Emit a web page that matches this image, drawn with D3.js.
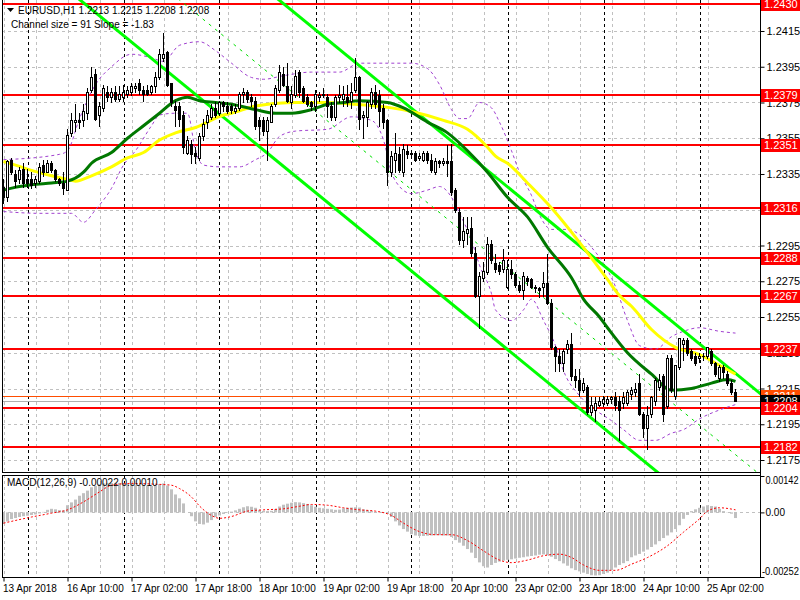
<!DOCTYPE html>
<html><head><meta charset="utf-8">
<script src="https://cdn.jsdelivr.net/npm/d3@7"></script>
<style>
html,body{margin:0;padding:0;background:#fff;}
svg{display:block;}
text{font-family:"Liberation Sans",Arial,sans-serif;}
</style></head><body>
<svg id="c" width="800" height="600"></svg>
<script>
// ---------------- DATA ----------------
const symbolTitle = "EURUSD,H1";
const headerQuote = ["1.2213","1.2215","1.2208","1.2208"];
const channelText = "Channel size = 91 Slope = -1.83";
const macdText = "MACD(12,26,9) -0.00022 0.00010";

const opens = [1.2328,1.2322,1.2343,1.2335,1.2332,1.2338,1.2332,1.2332,1.2330,1.2331,
1.2340,1.2336,1.2341,1.2337,1.2332,1.2330,1.2326,1.2358,1.2364,1.2365,
1.2365,1.2369,1.2382,1.2391,1.2368,1.2372,1.2381,1.2378,1.2381,1.2377,
1.2378,1.2380,1.2381,1.2383,1.2386,1.2382,1.2382,1.2381,1.2384,1.2389,
1.2400,1.2403,1.2386,1.2373,1.2373,1.2368,1.2347,1.2352,1.2347,1.2344,
1.2356,1.2364,1.2367,1.2372,1.2369,1.2375,1.2373,1.2373,1.2370,1.2372,
1.2380,1.2381,1.2378,1.2376,1.2365,1.2365,1.2359,1.2364,1.2374,1.2382,
1.2391,1.2384,1.2375,1.2379,1.2392,1.2383,1.2378,1.2375,1.2373,1.2378,
1.2380,1.2378,1.2373,1.2367,1.2378,1.2377,1.2378,1.2376,1.2382,1.2389,
1.2367,1.2367,1.2374,1.2381,1.2379,1.2372,1.2365,1.2336,1.2343,1.2346,
1.2336,1.2348,1.2347,1.2347,1.2344,1.2343,1.2347,1.2343,1.2336,1.2342,
1.2341,1.2342,1.2342,1.2326,1.2314,1.2298,1.2302,1.2305,1.2291,1.2267,
1.2277,1.2280,1.2296,1.2285,1.2284,1.2282,1.2272,1.2282,1.2279,1.2273,
1.2270,1.2277,1.2276,1.2271,1.2271,1.2272,1.2274,1.2263,1.2238,1.2233,
1.2229,1.2237,1.2240,1.2222,1.2220,1.2214,1.2216,1.2202,1.2203,1.2206,
1.2207,1.2207,1.2209,1.2210,1.2208,1.2207,1.2207,1.2212,1.2213,1.2218,
1.2201,1.2193,1.2201,1.2208,1.2216,1.2222,1.2205,1.2232,1.2211,1.2227,
1.2240,1.2242,1.2236,1.2233,1.2232,1.2233,1.2233,1.2236,1.2229,1.2221,
1.2227,1.2223,1.2218,1.2213];
const highs = [1.2332,1.2343,1.2344,1.2337,1.2339,1.2341,1.2338,1.2336,1.2334,1.2341,
1.2343,1.2343,1.2342,1.2338,1.2333,1.2336,1.2360,1.2369,1.2374,1.2369,
1.2374,1.2383,1.2395,1.2394,1.2375,1.2385,1.2384,1.2383,1.2384,1.2384,
1.2385,1.2384,1.2386,1.2386,1.2388,1.2384,1.2385,1.2385,1.2392,1.2405,
1.2414,1.2404,1.2386,1.2376,1.2375,1.2370,1.2356,1.2354,1.2350,1.2358,
1.2366,1.2371,1.2374,1.2375,1.2376,1.2376,1.2375,1.2374,1.2374,1.2381,
1.2383,1.2382,1.2380,1.2378,1.2367,1.2367,1.2367,1.2374,1.2385,1.2396,
1.2395,1.2397,1.2384,1.2393,1.2393,1.2384,1.2380,1.2376,1.2382,1.2381,
1.2383,1.2380,1.2375,1.2379,1.2385,1.2384,1.2385,1.2386,1.2400,1.2390,
1.2370,1.2376,1.2383,1.2385,1.2382,1.2374,1.2366,1.2348,1.2358,1.2350,
1.2352,1.2351,1.2348,1.2348,1.2347,1.2348,1.2348,1.2346,1.2344,1.2343,
1.2344,1.2351,1.2352,1.2327,1.2316,1.2311,1.2311,1.2311,1.2294,1.2280,
1.2286,1.2300,1.2298,1.2290,1.2286,1.2293,1.2287,1.2287,1.2280,1.2275,
1.2280,1.2278,1.2277,1.2273,1.2272,1.2280,1.2290,1.2265,1.2239,1.2237,
1.2237,1.2242,1.2246,1.2226,1.2226,1.2221,1.2217,1.2210,1.2210,1.2210,
1.2211,1.2211,1.2211,1.2213,1.2211,1.2213,1.2214,1.2216,1.2218,1.2223,
1.2202,1.2205,1.2211,1.2221,1.2223,1.2223,1.2234,1.2234,1.2228,1.2243,
1.2243,1.2243,1.2237,1.2235,1.2235,1.2235,1.2238,1.2237,1.2230,1.2228,
1.2228,1.2225,1.2220,1.2215];
const lows = [1.2319,1.2320,1.2335,1.2328,1.2330,1.2328,1.2328,1.2327,1.2328,1.2330,
1.2334,1.2336,1.2336,1.2331,1.2329,1.2324,1.2326,1.2356,1.2359,1.2361,
1.2362,1.2366,1.2381,1.2365,1.2362,1.2370,1.2376,1.2375,1.2376,1.2376,
1.2376,1.2378,1.2379,1.2381,1.2380,1.2376,1.2379,1.2380,1.2381,1.2388,
1.2398,1.2384,1.2373,1.2362,1.2362,1.2347,1.2346,1.2341,1.2341,1.2343,
1.2354,1.2361,1.2366,1.2367,1.2368,1.2370,1.2369,1.2369,1.2369,1.2371,
1.2375,1.2375,1.2373,1.2360,1.2354,1.2357,1.2343,1.2364,1.2373,1.2381,
1.2384,1.2375,1.2372,1.2378,1.2378,1.2375,1.2373,1.2371,1.2370,1.2376,
1.2378,1.2367,1.2365,1.2365,1.2375,1.2373,1.2373,1.2372,1.2381,1.2360,
1.2355,1.2362,1.2372,1.2372,1.2362,1.2361,1.2329,1.2334,1.2336,1.2336,
1.2334,1.2344,1.2345,1.2342,1.2343,1.2342,1.2341,1.2336,1.2335,1.2339,
1.2340,1.2334,1.2323,1.2314,1.2296,1.2294,1.2296,1.2289,1.2266,1.2249,
1.2275,1.2279,1.2285,1.2280,1.2279,1.2280,1.2271,1.2277,1.2272,1.2269,
1.2265,1.2273,1.2271,1.2269,1.2266,1.2267,1.2262,1.2237,1.2225,1.2225,
1.2225,1.2235,1.2220,1.2216,1.2211,1.2213,1.2201,1.2200,1.2197,1.2205,
1.2205,1.2206,1.2207,1.2203,1.2186,1.2204,1.2206,1.2209,1.2211,1.2200,
1.2188,1.2181,1.2199,1.2206,1.2214,1.2197,1.2204,1.2213,1.2209,1.2226,
1.2231,1.2234,1.2231,1.2228,1.2230,1.2231,1.2232,1.2228,1.2222,1.2219,
1.2221,1.2217,1.2212,1.2208];
const closes = [1.2322,1.2342,1.2336,1.2331,1.2337,1.2330,1.2330,1.2329,1.2332,1.2339,
1.2336,1.2341,1.2337,1.2332,1.2330,1.2327,1.2357,1.2365,1.2365,1.2364,
1.2370,1.2381,1.2389,1.2366,1.2373,1.2383,1.2378,1.2381,1.2377,1.2380,
1.2381,1.2382,1.2384,1.2384,1.2382,1.2380,1.2380,1.2384,1.2389,1.2402,
1.2402,1.2385,1.2375,1.2371,1.2366,1.2350,1.2354,1.2346,1.2345,1.2356,
1.2363,1.2368,1.2372,1.2368,1.2375,1.2373,1.2370,1.2371,1.2372,1.2380,
1.2381,1.2377,1.2376,1.2362,1.2362,1.2359,1.2365,1.2373,1.2383,1.2392,
1.2385,1.2376,1.2380,1.2390,1.2381,1.2376,1.2374,1.2373,1.2380,1.2379,
1.2379,1.2373,1.2367,1.2378,1.2379,1.2380,1.2375,1.2381,1.2389,1.2366,
1.2368,1.2375,1.2381,1.2374,1.2370,1.2364,1.2336,1.2345,1.2347,1.2337,
1.2349,1.2346,1.2346,1.2343,1.2345,1.2347,1.2343,1.2337,1.2342,1.2341,
1.2342,1.2341,1.2325,1.2315,1.2298,1.2303,1.2304,1.2291,1.2267,1.2278,
1.2281,1.2296,1.2287,1.2282,1.2281,1.2287,1.2282,1.2279,1.2273,1.2270,
1.2278,1.2275,1.2272,1.2272,1.2270,1.2274,1.2263,1.2238,1.2233,1.2229,
1.2236,1.2240,1.2222,1.2220,1.2214,1.2218,1.2202,1.2206,1.2207,1.2208,
1.2209,1.2209,1.2210,1.2206,1.2203,1.2210,1.2213,1.2214,1.2215,1.2201,
1.2193,1.2200,1.2210,1.2220,1.2220,1.2201,1.2232,1.2214,1.2228,1.2243,
1.2242,1.2235,1.2232,1.2229,1.2233,1.2233,1.2238,1.2229,1.2223,1.2227,
1.2224,1.2218,1.2213,1.2208];

const timeTickBars = [0,16,32,48,64,80,96,112,128,144,160,176];
const timeTickLabels = ["13 Apr 2018","16 Apr 10:00","17 Apr 02:00","17 Apr 18:00","18 Apr 10:00","19 Apr 02:00","19 Apr 18:00","20 Apr 10:00","23 Apr 02:00","23 Apr 18:00","24 Apr 10:00","25 Apr 02:00"];
const daySeparatorBars = [6,30,54,78,102,126,150,174];
const gridBars = [0,8,16,24,32,40,48,56,64,72,80,88,96,104,112,120,128,136,144,152,160,168,176];
const priceTicks = [1.2415,1.2395,1.2375,1.2355,1.2335,1.2315,1.2295,1.2275,1.2255,1.2235,1.2215,1.2195,1.2175];
const levelPrices = [1.2430,1.2379,1.2351,1.2316,1.2288,1.2267,1.2237,1.2204,1.2182];
const askPrice = 1.2211;
const bidPrice = 1.2208;

const maFastBars = [0,4,7,12,16,20,22,27,31,35,39,43,46,49,53,57,63,68,72,77,81,85,89,96,100,106,111,116,121,126,131,136,142,145,149,151,156,162,167,172,177,181,183];
const maFastValues = [1.2326,1.2328,1.2329,1.2330,1.2331,1.2336,1.2341,1.2347,1.2355,1.2362,1.2369,1.2376,1.2378,1.2376,1.2375,1.2374,1.2371,1.2369,1.2369,1.2371,1.2374,1.2375,1.2376,1.2375,1.2372,1.2364,1.2358,1.2348,1.2336,1.2322,1.2311,1.2294,1.2277,1.2265,1.2255,1.2249,1.2235,1.2223,1.2214,1.2215,1.2218,1.2220,1.2219];
const maSlowBars = [0,3,7,12,16,18,22,27,31,35,39,43,48,55,57,63,72,80,88,97,102,110,116,121,123,126,131,137,147,151,154,157,162,168,174,179,183];
const maSlowValues = [1.2342,1.2340,1.2337,1.2334,1.2332,1.2331,1.2334,1.2339,1.2344,1.2347,1.2354,1.2358,1.2361,1.2368,1.2369,1.2373,1.2375,1.2375,1.2374,1.2372,1.2370,1.2365,1.2360,1.2350,1.2345,1.2341,1.2330,1.2316,1.2288,1.2276,1.2267,1.2261,1.2248,1.2238,1.2234,1.2228,1.2223];

const bandUpperBars = [0,14,16,19,23,27,32,37,40,44,49,53,57,62,65,70,77,84,89,98,102,106,109,112,114,116,119,122,124,127,129,132,134,137,141,144,147,150,153,156,159,163,167,170,174,179,183];
const bandUpperValues = [1.2343,1.2346,1.2348,1.2366,1.2385,1.2395,1.2402,1.2400,1.2398,1.2407,1.2409,1.2404,1.2397,1.2389,1.2388,1.2390,1.2392,1.2392,1.2397,1.2397,1.2397,1.2394,1.2385,1.2371,1.2366,1.2366,1.2375,1.2372,1.2364,1.2348,1.2336,1.2323,1.2312,1.2304,1.2304,1.2301,1.2294,1.2285,1.2272,1.2253,1.2239,1.2237,1.2244,1.2247,1.2249,1.2247,1.2246];
const bandLowerBars = [0,9,17,20,23,27,30,33,37,39,43,46,48,50,54,59,63,66,69,73,81,87,92,95,97,99,102,106,109,112,114,117,119,122,123,127,130,132,135,138,140,144,148,152,155,159,163,167,170,174,179,183];
const bandLowerValues = [1.2314,1.2313,1.2313,1.2308,1.2315,1.2327,1.2340,1.2348,1.2362,1.2368,1.2369,1.2369,1.2348,1.2340,1.2339,1.2339,1.2343,1.2347,1.2356,1.2359,1.2360,1.2367,1.2365,1.2354,1.2336,1.2328,1.2324,1.2326,1.2328,1.2322,1.2313,1.2298,1.2284,1.2268,1.2259,1.2253,1.2259,1.2265,1.2253,1.2239,1.2225,1.2211,1.2203,1.2197,1.2192,1.2186,1.2186,1.2190,1.2192,1.2198,1.2203,1.2206];

const channelMidAtLastBar = 1.2178;   // middle line value at last bar
const channelSlopePerBar = -0.000183; // Slope = -1.83 pips / bar
const channelSize = 0.0091;           // 91 pips

const macdMainE4 = [-4.5,-3.5,-2.6,-2.2,-1.8,-1.5,-1.3,-1.0,-0.8,-0.4,
0.2,1.0,1.4,1.2,0.9,0.8,2.8,3.9,5.0,6.5,
7.5,8.5,9.8,10.3,11.0,11.3,11.5,11.5,11.5,11.5,
11.5,11.2,11.0,10.8,10.6,10.6,10.5,10.3,10.5,11.0,
11.3,10.5,9.0,7.0,5.5,3.5,0.0,-1.5,-3.5,-4.5,
-4.7,-4.0,-3.0,-1.8,-1.2,-0.6,-0.2,0.3,0.8,1.4,
2.0,2.4,2.2,1.8,1.0,0.6,0.5,0.6,1.3,2.3,
3.0,3.4,3.8,4.0,3.9,3.6,3.3,2.8,2.2,1.8,
1.6,1.4,1.2,1.0,1.1,1.6,1.8,1.9,2.0,1.9,
1.2,0.8,0.5,0.2,0.1,-0.2,-0.5,-1.8,-3.5,-5.1,
-6.5,-7.5,-8.5,-9.0,-9.2,-9.2,-9.1,-9.0,-8.9,-8.9,
-9.0,-9.0,-9.6,-10.8,-11.8,-13.0,-14.3,-15.7,-17.8,-19.5,
-21.0,-21.5,-20.5,-19.7,-19.2,-18.8,-18.5,-18.3,-18.0,-17.7,
-17.5,-17.2,-17.0,-16.8,-16.5,-16.4,-16.7,-17.3,-18.2,-19.0,
-19.9,-20.8,-21.8,-22.5,-23.0,-23.5,-24.0,-24.5,-24.6,-24.5,
-24.0,-23.5,-22.5,-21.5,-20.5,-19.8,-19.0,-17.5,-16.8,-16.2,
-15.3,-14.5,-13.5,-12.5,-11.2,-10.0,-9.0,-7.8,-6.5,-5.0,
-2.5,-1.0,0.5,1.2,1.8,2.3,2.8,2.5,2.3,1.4,
0.5,0.1,-0.5,-2.2];
const macdSignalBars = [0,7,12,16,20,24,27,32,38,42,44,47,49,52,54,57,61,65,70,74,77,81,85,89,93,97,100,104,108,112,116,120,124,127,131,135,139,142,145,149,153,157,161,166,170,174,176,179,183];
const macdSignalE4 = [-4.2,-1.8,-0.3,1.0,4.1,8.0,10.6,11.3,11.0,10.6,9.3,6.0,2.5,-1.2,-2.3,-1.6,0.5,1.0,1.4,2.4,3.1,2.8,1.8,1.0,0.5,-1.2,-4.2,-7.5,-8.7,-8.7,-11.0,-15.0,-18.6,-19.6,-18.6,-16.9,-16.3,-17.6,-20.5,-22.6,-22.6,-20.2,-17.6,-13.0,-7.7,-2.5,0.5,1.8,1.0];
const macdTicks = [0.00142, 0, -0.00252];
const macdTickLabels = ["0.00142", "0.00", "-0.00252"];

// ---------------- LAYOUT ----------------
const svg = d3.select('#c');
const L = 2, R = 760, mainTop = 0, mainBot = 472, macdTop = 475, macdBot = 577;
const nBars = opens.length;
const x = d3.scaleLinear().domain([0, nBars-1]).range([3.5, 3.5 + 4*(nBars-1)]);
const y = d3.scaleLinear().domain([1.216829, 1.243234]).range([mainBot, mainTop]);
const ym = d3.scaleLinear().domain([-0.00252, 0.00142]).range([macdBot, macdTop+1]);
const px = v => Math.round(v) + 0.5;

svg.append('rect').attr('width',800).attr('height',600).attr('fill','#fff');
const defs = svg.append('defs');
defs.append('clipPath').attr('id','clipMain').append('rect').attr('x',L+1).attr('y',mainTop).attr('width',R-L-1).attr('height',mainBot-mainTop);
defs.append('clipPath').attr('id','clipMacd').append('rect').attr('x',L+1).attr('y',macdTop+1).attr('width',R-L-1).attr('height',macdBot-macdTop-1);

const gMain = svg.append('g').attr('clip-path','url(#clipMain)');
const gMacd = svg.append('g').attr('clip-path','url(#clipMacd)');

// grid
[ [gMain, mainTop, mainBot], [gMacd, macdTop, macdBot] ].forEach(([g,t,b]) => {
  g.selectAll(null).data(gridBars).enter().append('line')
    .attr('x1',d=>px(x(d))).attr('x2',d=>px(x(d))).attr('y1',t).attr('y2',b)
    .attr('stroke','#c0c0c0').attr('stroke-dasharray','3,3');
});
gMain.selectAll(null).data(priceTicks).enter().append('line')
  .attr('x1',L).attr('x2',R).attr('y1',d=>px(y(d))).attr('y2',d=>px(y(d)))
  .attr('stroke','#c0c0c0').attr('stroke-dasharray','3,3');
[ [gMain, mainTop, mainBot], [gMacd, macdTop, macdBot] ].forEach(([g,t,b]) => {
  g.selectAll(null).data(daySeparatorBars).enter().append('line')
    .attr('x1',d=>px(x(d))).attr('x2',d=>px(x(d))).attr('y1',t).attr('y2',b)
    .attr('stroke','#000').attr('stroke-dasharray','3,3');
});

// horizontal levels
gMain.selectAll(null).data(levelPrices).enter().append('line')
  .attr('x1',L).attr('x2',R).attr('y1',d=>Math.round(y(d))).attr('y2',d=>Math.round(y(d)))
  .attr('stroke','#ff0000').attr('stroke-width',2);
gMain.append('line').attr('x1',L).attr('x2',R).attr('y1',px(y(askPrice))).attr('y2',px(y(askPrice)))
  .attr('stroke','#ff4d00').attr('stroke-width',1);
gMain.append('line').attr('x1',L).attr('x2',R).attr('y1',px(y(bidPrice))).attr('y2',px(y(bidPrice)))
  .attr('stroke','#b0b0b0').attr('stroke-width',1);

// bands
const zip = (a,b) => a.map((d,i)=>[d,b[i]]);
const line = d3.line().x(d=>x(d[0])).y(d=>y(d[1])).curve(d3.curveMonotoneX);
[ [bandUpperBars,bandUpperValues], [bandLowerBars,bandLowerValues] ].forEach(([b,v]) => {
  gMain.append('path').attr('d', line(zip(b,v))).attr('fill','none')
    .attr('stroke','#a040d0').attr('stroke-width',1).attr('stroke-dasharray','3,3');
});

// regression channel
const chVal = (i, off) => channelMidAtLastBar + channelSlopePerBar*(i-(nBars-1)) + off;
const chBars = [-40, nBars+20];
const straight = d3.line().x(d=>x(d[0])).y(d=>y(d[1]));
[channelSize/2, -channelSize/2].forEach(off => {
  gMain.append('path').attr('d', straight(chBars.map(i=>[i, chVal(i,off)])))
    .attr('stroke','#00ff00').attr('stroke-width',3).attr('fill','none');
});
gMain.append('path').attr('d', straight(chBars.map(i=>[i, chVal(i,0)])))
  .attr('stroke','#00e000').attr('stroke-width',1).attr('stroke-dasharray','3,5').attr('fill','none');

// moving averages
gMain.append('path').attr('d', line(zip(maSlowBars,maSlowValues))).attr('fill','none')
  .attr('stroke','#ffff00').attr('stroke-width',3);
gMain.append('path').attr('d', line(zip(maFastBars,maFastValues))).attr('fill','none')
  .attr('stroke','#007800').attr('stroke-width',3);

// candles
const bars = d3.range(nBars);
const gC = gMain.append('g');
gC.selectAll(null).data(bars).enter().append('line')
  .attr('x1',i=>x(i)).attr('x2',i=>x(i))
  .attr('y1',i=>Math.round(y(highs[i]))).attr('y2',i=>Math.round(y(lows[i]))+1)
  .attr('stroke','#000');
gC.selectAll(null).data(bars).enter().append('rect')
  .attr('x',i=>x(i)-1.5).attr('width',3)
  .attr('y',i=>Math.round(y(Math.max(opens[i],closes[i]))))
  .attr('height',i=>Math.max(1, Math.round(y(Math.min(opens[i],closes[i]))) - Math.round(y(Math.max(opens[i],closes[i]))) + 1))
  .attr('fill','#000');
gC.selectAll(null).data(bars.filter(i=>closes[i]>opens[i])).enter().append('rect')
  .attr('x',i=>x(i)-0.5).attr('width',1)
  .attr('y',i=>Math.round(y(closes[i]))+1)
  .attr('height',i=>Math.max(0, Math.round(y(opens[i])) - Math.round(y(closes[i])) - 1))
  .attr('fill','#fff');

// MACD
gMacd.append('line').attr('x1',L).attr('x2',R).attr('y1',px(ym(0))).attr('y2',px(ym(0)))
  .attr('stroke','#c0c0c0').attr('stroke-dasharray','3,3');
gMacd.selectAll(null).data(bars).enter().append('rect')
  .attr('x',i=>x(i)-1.5).attr('width',3)
  .attr('y',i=>Math.min(ym(macdMainE4[i]*1e-4), ym(0)))
  .attr('height',i=>Math.abs(ym(macdMainE4[i]*1e-4)-ym(0)))
  .attr('fill','#c0c0c0');
const lineM = d3.line().x(d=>x(d[0])).y(d=>ym(d[1]*1e-4)).curve(d3.curveMonotoneX);
gMacd.append('path').attr('d', lineM(zip(macdSignalBars,macdSignalE4))).attr('fill','none')
  .attr('stroke','#ff0000').attr('stroke-width',1).attr('stroke-dasharray','2,2');

// borders
const border = svg.append('g').attr('stroke','#000').attr('fill','none');
border.append('line').attr('x1',L+0.5).attr('x2',L+0.5).attr('y1',0).attr('y2',mainBot);
border.append('line').attr('x1',L+0.5).attr('x2',L+0.5).attr('y1',macdTop).attr('y2',macdBot);
border.append('line').attr('x1',R+0.5).attr('x2',R+0.5).attr('y1',0).attr('y2',macdBot+1);
border.append('line').attr('x1',L).attr('x2',R).attr('y1',mainBot+0.5).attr('y2',mainBot+0.5);
border.append('line').attr('x1',L).attr('x2',R).attr('y1',macdTop+0.5).attr('y2',macdTop+0.5);
border.append('line').attr('x1',L).attr('x2',R+1).attr('y1',macdBot+0.5).attr('y2',macdBot+0.5);

// price axis
const pAxis = svg.append('g').attr('transform',`translate(${R+0.5},0)`)
  .call(d3.axisRight(y).tickValues(priceTicks).tickSize(4).tickPadding(2).tickFormat(d3.format('.4f')));
pAxis.select('.domain').remove();
pAxis.selectAll('text').attr('font-size',11).attr('font-family','"Liberation Sans",Arial,sans-serif').attr('fill','#000');

// current price labels
function priceLabel(v, fill, txt) {
  const yy = Math.round(y(v));
  const g = svg.append('g');
  g.append('rect').attr('x',R+1).attr('y',yy-6).attr('width',40).attr('height',13).attr('fill',fill);
  g.append('text').attr('x',R+4).attr('y',yy+4).attr('font-size',11).attr('fill',txt).text(d3.format('.4f')(v));
}
priceLabel(askPrice,'#ff4d00','#fff');
priceLabel(bidPrice,'#000','#fff');
levelPrices.forEach(v=>priceLabel(v,'#ff0000','#fff'));

// MACD axis
const mAxis = svg.append('g').attr('transform',`translate(${R+0.5},0)`)
  .call(d3.axisRight(ym).tickValues(macdTicks).tickSize(4).tickPadding(1).tickFormat((d,i)=>macdTickLabels[i]));
mAxis.select('.domain').remove();
mAxis.selectAll('text').attr('font-size',10).attr('fill','#000');
mAxis.selectAll('.tick').filter(d=>d===0.00142).select('text').attr('dy','0.75em').attr('textLength',33).attr('lengthAdjust','spacingAndGlyphs');
mAxis.selectAll('.tick').filter(d=>d===-0.00252).select('text').attr('dy','-0.25em').attr('x',1.5)
  .attr('textLength',37).attr('lengthAdjust','spacingAndGlyphs');

// time axis
const tAxis = svg.append('g').attr('transform',`translate(0,${macdBot+0.5})`)
  .call(d3.axisBottom(x).tickValues(timeTickBars).tickSize(4).tickPadding(3).tickFormat((d,i)=>timeTickLabels[i]));
tAxis.select('.domain').remove();
tAxis.selectAll('text').attr('font-size',10).attr('text-anchor','start').attr('dx','-1').attr('fill','#000');

// header texts
svg.append('path').attr('d','M7,8 L14,8 L10.5,12 Z').attr('fill','#000');
svg.append('text').attr('x',18).attr('y',14).attr('font-size',10).attr('fill','#000')
  .text(symbolTitle + '  ' + headerQuote.join(' '));
svg.append('text').attr('x',11).attr('y',28).attr('font-size',10).attr('fill','#000').text(channelText);
svg.append('text').attr('x',7).attr('y',486).attr('font-size',10).attr('fill','#000').text(macdText);
</script>
</body></html>
